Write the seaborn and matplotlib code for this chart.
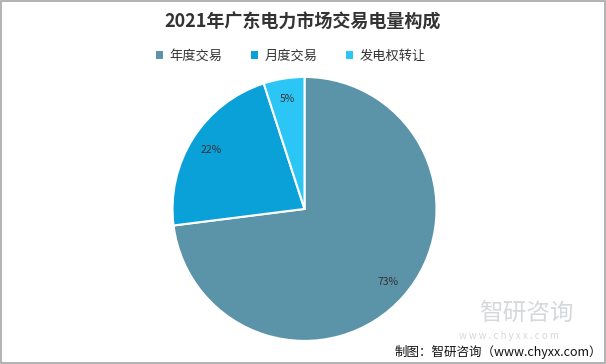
import matplotlib
matplotlib.use("Agg")
import matplotlib.pyplot as plt
import seaborn as sns
from matplotlib.patches import Patch, Rectangle

# data
categories = ["年度交易", "月度交易", "发电权转让"]
shares = [73, 22, 5]
colors = ["#5B93A8", "#0AA0D8", "#2BC6F6"]

sns.set_theme(style="white")
plt.rcParams['font.family'] = ['Noto Sans CJK SC', 'DejaVu Sans']

fig = plt.figure(figsize=(6.06, 3.64), dpi=100)
fig.patch.set_facecolor("white")

ax = fig.add_axes([0.5025 - 0.2178, 0.426 - 0.3626, 0.4356, 0.7252])
wedges, texts, autotexts = ax.pie(
    shares, colors=colors, startangle=90, counterclock=False,
    autopct=lambda p: f"{p:.0f}%", pctdistance=0.84,
    wedgeprops=dict(edgecolor="white", linewidth=1.5),
    textprops=dict(fontsize=7.5, color="#333333"))
ax.set_xlim(-1, 1)
ax.set_ylim(-1, 1)
ax.set_aspect("equal")

fig.text(0.5, 0.94, "2021年广东电力市场交易电量构成", ha="center", va="center",
         fontsize=13, fontweight="bold", color="#333333")

handles = [Patch(facecolor=c, edgecolor="none") for c in colors]
fig.legend(handles, categories, loc="center", bbox_to_anchor=(0.48, 0.845), ncol=3,
           frameon=False, fontsize=9.5, handlelength=0.5, handleheight=0.5,
           columnspacing=2.2, handletextpad=0.5, labelcolor="#333333")

# watermark
fig.text(0.868, 0.135, "智研咨询", ha="center", va="center", fontsize=17,
         color="#D5D8DC")
fig.text(0.84, 0.078, "w w w . c h y x x . c o m", ha="center", va="center",
         fontsize=7, color="#D5D8DC")
fig.text(0.993, 0.033, "制图：智研咨询（www.chyxx.com）", ha="right", va="center",
         fontsize=9, color="#111111")

fig.patches.append(Rectangle((0.001, 0.002), 0.997, 0.994, transform=fig.transFigure,
                             fill=False, edgecolor="#A6A6A6", linewidth=1.2))

fig.savefig("out.png", dpi=100)
